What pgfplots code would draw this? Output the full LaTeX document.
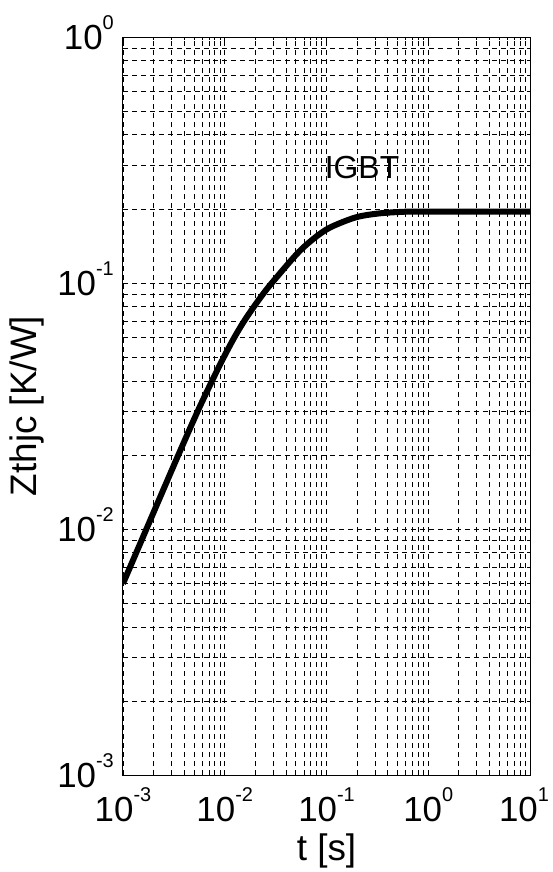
\documentclass[border=0pt]{standalone}
\usepackage{fontspec}
\setmainfont{Liberation Sans}
\usepackage{pgfplots}
\pgfplotsset{compat=1.18}

% tick label 10^n, MATLAB style
\newcommand{\pw}[1]{10\raisebox{20bp}[0pt][0pt]{\fontsize{20}{20}\selectfont #1}}

\begin{document}
\begin{tikzpicture}
\path[use as bounding box] (-123bp,-97bp) rectangle (430bp,775bp);
\begin{axis}[
    at={(0,0)}, anchor=south west,
    scale only axis,
    width=407bp, height=738bp,
    xmode=log, ymode=log,
    xmin=1e-3, xmax=10,
    ymin=1e-3, ymax=1,
    xtick={1e-3,1e-2,1e-1,1,10},
    xticklabels={\pw{-3},\pw{-2},\pw{-1},\pw{0},\hspace*{-12bp}\pw{1}},
    ytick={1e-3,1e-2,1e-1,1},
    yticklabels={\pw{-3},\pw{-2},\pw{-1},\pw{0}},
    minor xtick={2e-3,3e-3,4e-3,5e-3,6e-3,7e-3,8e-3,9e-3,
                 2e-2,3e-2,4e-2,5e-2,6e-2,7e-2,8e-2,9e-2,
                 2e-1,3e-1,4e-1,5e-1,6e-1,7e-1,8e-1,9e-1,
                 2,3,4,5,6,7,8,9},
    minor ytick={2e-3,3e-3,4e-3,5e-3,6e-3,7e-3,8e-3,9e-3,
                 2e-2,3e-2,4e-2,5e-2,6e-2,7e-2,8e-2,9e-2,
                 2e-1,3e-1,4e-1,5e-1,6e-1,7e-1,8e-1,9e-1},
    grid=both,
    major grid style={black, line width=0.8bp, dash pattern=on 5bp off 4bp},
    minor grid style={black, line width=0.8bp, dash pattern=on 5bp off 4bp},
    tick align=inside,
    major tick length=5bp, minor tick length=3bp,
    tick style={black, line width=0.8bp},
    axis line style={line width=1bp},
    ticklabel style={font=\fontsize{35}{35}\selectfont, inner sep=0pt},
    xticklabel style={anchor=north, yshift=-22bp},
    yticklabel style={anchor=east, xshift=-9bp},
    xlabel={t [s]},
    ylabel={Zthjc [K/W]},
    every axis x label/.style={at={(axis description cs:0.5,-0.1165)}, anchor=base,
        font=\fontsize{37}{37}\selectfont},
    every axis y label/.style={at={(axis description cs:-0.2113,0.5)}, anchor=base,
        rotate=90, font=\fontsize{37}{37}\selectfont},
]
\addplot[black, line width=6bp, smooth, line join=round] coordinates {
    (0.001, 0.0060)
    (0.0017, 0.010)
    (0.0035, 0.020)
    (0.0054, 0.030)
    (0.0075, 0.040)
    (0.0098, 0.050)
    (0.0124, 0.060)
    (0.0155, 0.070)
    (0.0193, 0.080)
    (0.0237, 0.090)
    (0.0290, 0.100)
    (0.0509, 0.131)
    (0.0741, 0.151)
    (0.108, 0.168)
    (0.195, 0.185)
    (0.336, 0.192)
    (0.614, 0.195)
    (1, 0.195)
    (10, 0.195)
};

\node[font=\fontsize{32}{32}\selectfont] at (axis cs:0.2234,0.2948) {IGBT};
\end{axis}
\end{tikzpicture}
\end{document}
